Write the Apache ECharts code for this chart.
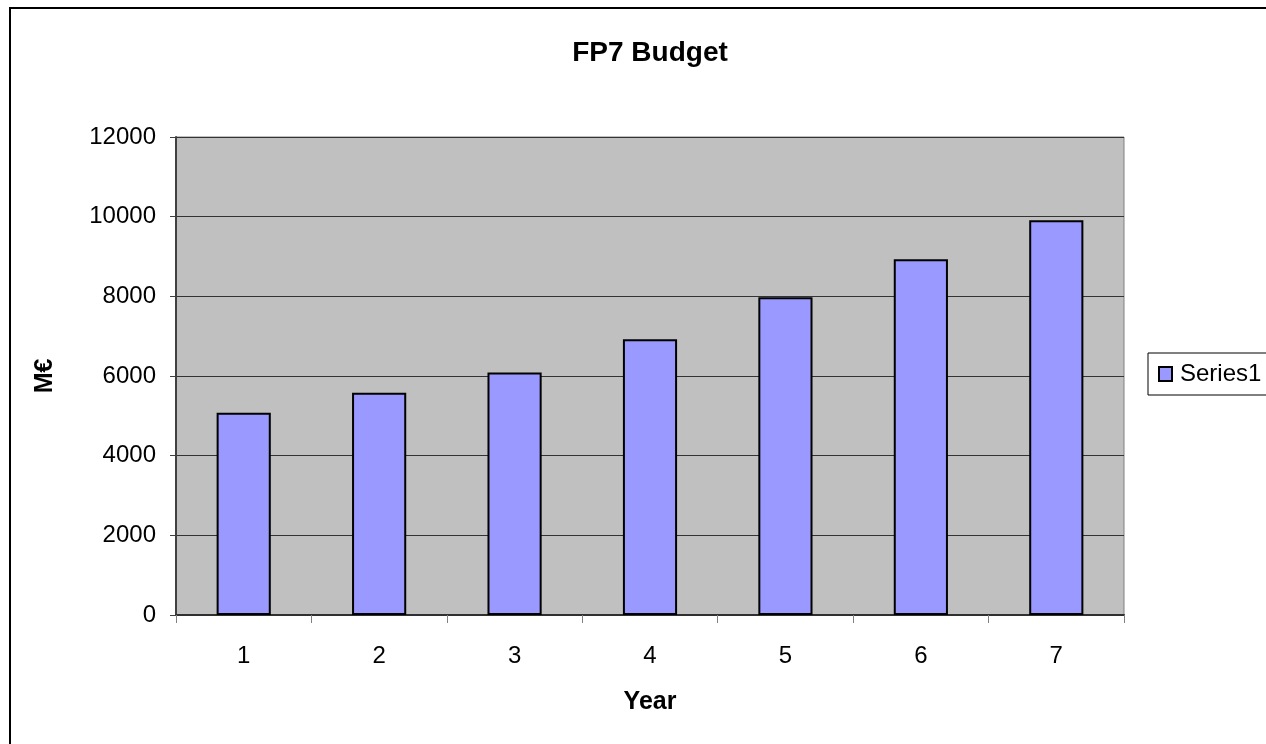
<!DOCTYPE html>
<html lang="en">
<head>
	<meta charset="utf-8">
	<title>FP7 Budget</title>
	<script src="https://cdn.jsdelivr.net/npm/echarts@6/dist/echarts.min.js"></script>
	<style>
		html, body { margin: 0; padding: 0; background: #fff; }
		#chart { width: 1266px; height: 744px; }
	</style>
</head>
<body>
<div id="chart"></div>
<script type="text/javascript">
	// data
	var years = ['1', '2', '3', '4', '5', '6', '7'];
	var budget = [5080, 5580, 6090, 6920, 7980, 8930, 9910];
	var seriesName = 'Series1';

	var font = 'Liberation Sans, Arial, sans-serif';

	var myChart = echarts.init(document.getElementById('chart'));
	var option = {
		backgroundColor: '#fff',
		animation: false,
		graphic: [{
			type: 'rect',
			shape: { x: 10, y: 8, width: 1300, height: 800 },
			style: { fill: 'none', stroke: '#000', lineWidth: 2 },
			silent: true
		}],
		title: {
			text: 'FP7 Budget',
			left: 650,
			top: 39,
			padding: 0,
			textAlign: 'center',
			textStyle: { fontFamily: font, fontSize: 28, fontWeight: 'bold', color: '#000' }
		},
		legend: {
			data: [seriesName],
			left: 1148,
			top: 353,
			orient: 'vertical',
			icon: 'rect',
			itemWidth: 13,
			itemHeight: 14,
			padding: [9, 12, 9, 10],
			backgroundColor: '#fff',
			borderColor: '#000',
			borderWidth: 1,
			borderRadius: 0,
			textStyle: { fontFamily: font, fontSize: 24, color: '#000', padding: [0, 0, 0, 3] }
		},
		grid: {
			left: 176,
			right: 142,
			top: 137,
			bottom: 129,
			show: true,
			backgroundColor: '#c0c0c0',
			borderColor: '#808080',
			borderWidth: 1
		},
		xAxis: {
			type: 'category',
			data: years,
			name: 'Year',
			nameLocation: 'middle',
			nameGap: 75,
			nameTextStyle: { fontFamily: font, fontSize: 25, fontWeight: 'bold', color: '#000' },
			axisLine: { lineStyle: { color: '#303030', width: 2 } },
			axisTick: { show: true, length: 8, lineStyle: { color: '#808080', width: 1 } },
			axisLabel: { fontFamily: font, fontSize: 24, color: '#000', margin: 29 },
			splitLine: { show: false }
		},
		yAxis: {
			type: 'value',
			min: 0,
			max: 12000,
			interval: 2000,
			name: 'M€',
			nameLocation: 'middle',
			nameRotate: 90,
			nameGap: 118,
			nameTextStyle: { fontFamily: font, fontSize: 25, fontWeight: 'bold', color: '#000' },
			axisLine: { show: true, lineStyle: { color: '#404040', width: 2 } },
			axisTick: { show: true, length: 6, lineStyle: { color: '#404040', width: 1 } },
			axisLabel: {
				fontFamily: font, fontSize: 24, color: '#000', margin: 20,
				formatter: function (v) { return String(v); }
			},
			splitLine: { show: true, lineStyle: { color: '#333', width: 1 } }
		},
		series: [{
			name: seriesName,
			type: 'bar',
			data: budget,
			barWidth: '40%',
			itemStyle: { color: '#9999ff', borderColor: '#000', borderWidth: 2 }
		}]
	};
	myChart.setOption(option);
</script>
</body>
</html>
